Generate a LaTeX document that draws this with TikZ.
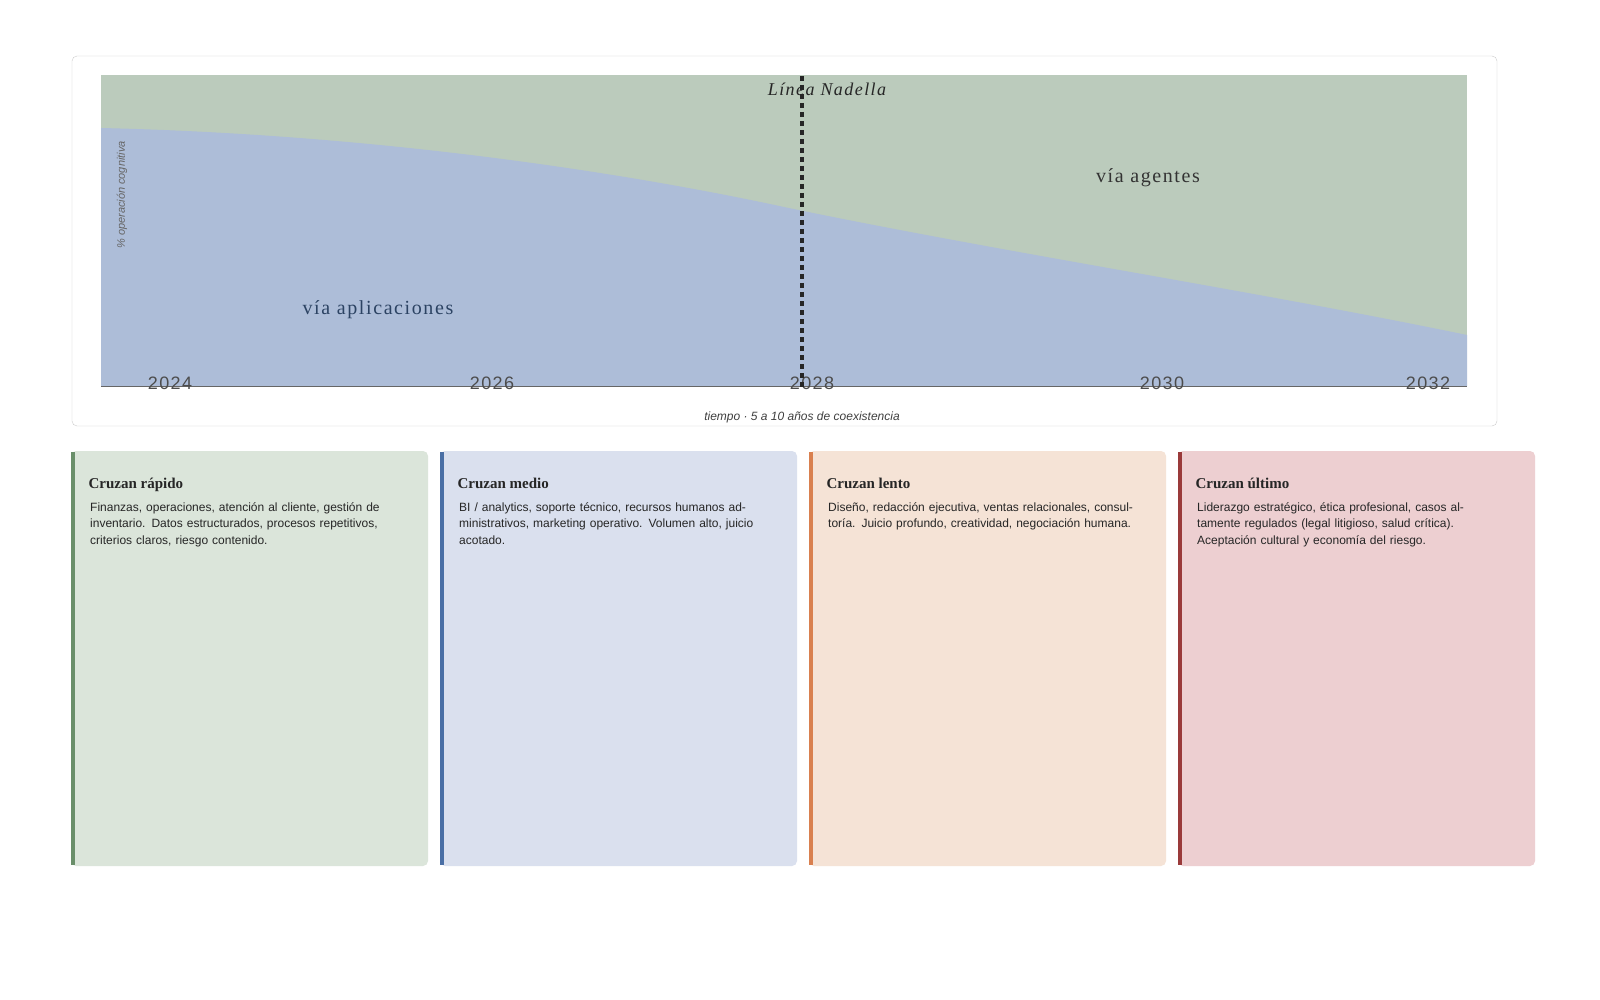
\documentclass[tikz,border=0pt]{standalone}
\usepackage{fontspec}
\setmainfont{Liberation Serif}
\setsansfont{Liberation Sans}
\begin{document}
\begin{tikzpicture}[x=1pt,y=-1pt,
  card/.style={rounded corners=5pt,draw=none},
  ttl/.style={anchor=north west,font=\fontsize{15}{18}\selectfont\bfseries\rmfamily,text=black!85},
  bod/.style={anchor=north west,font=\fontsize{12}{16.5}\selectfont\sffamily,text=black!85,text width=305pt,align=left,inner sep=0pt},
  yr/.style={font=\fontsize{18}{20}\selectfont\sffamily\addfontfeatures{LetterSpace=8},text=black!70}]
\definecolor{gA}{HTML}{BBCBBC}\definecolor{bA}{HTML}{ADBDD8}
\definecolor{c1}{HTML}{DBE5DA}\definecolor{e1}{HTML}{6A8F6A}
\definecolor{c2}{HTML}{DAE0EE}\definecolor{e2}{HTML}{4A6FA5}
\definecolor{c3}{HTML}{F5E3D6}\definecolor{e3}{HTML}{D9804F}
\definecolor{c4}{HTML}{EDCFD1}\definecolor{e4}{HTML}{9A3A3A}
\useasboundingbox (0,0) rectangle (1600,1000);
\fill[white] (0,0) rectangle (1600,1000);
\draw[black!20,rounded corners=5pt] (72,56) rectangle (1497,426);
\fill[gA] (101,75) rectangle (1467,386);
\fill[bA] (101,128) .. controls (400,135) and (650,178) .. (784,207) .. controls (1000,252) and (1250,290) .. (1467,335) -- (1467,386) -- (101,386) -- cycle;
\draw[black!60,line width=1pt] (101,386) -- (1467,386);
\node[rotate=90,font=\fontsize{11}{12}\selectfont\sffamily\itshape,text=black!60] (ylab) at (122,195) {\% operación cognitiva};
\node[font=\fontsize{20}{22}\selectfont\addfontfeatures{LetterSpace=8},text=black!80] (ag) at (1148,178) {vía agentes};
\node[font=\fontsize{20}{22}\selectfont\addfontfeatures{LetterSpace=8},text=e2!60!black] (ap) at (378,310) {vía aplicaciones};
\node[yr] (y1) at (170,383) {2024};
\node[yr] (y2) at (492,383) {2026};
\node[yr] (y3) at (812,383) {2028};
\node[yr] (y4) at (1162,383) {2030};
\node[yr] (y5) at (1428,383) {2032};
\node[font=\fontsize{18}{20}\selectfont\itshape\addfontfeatures{LetterSpace=8},text=black!85] (nad) at (827,89) {Línea Nadella};
\coordinate (t) at (802,76); \coordinate (b) at (802,390);
\draw[black!85,line width=4.5pt,dash pattern=on 5pt off 4pt] (t) -- (b);
\node[font=\fontsize{12}{14}\selectfont\sffamily\itshape,text=black!75] (cap) at (802,417) {tiempo · 5 a 10 años de coexistencia};
\foreach \i/\x/\t/\b in {1/71/Cruzan rápido/{Finanzas, operaciones, atención al cliente, gestión de inventario. Datos estructurados, procesos repetitivos, criterios claros, riesgo contenido.},
2/440/Cruzan medio/{BI / analytics, soporte técnico, recursos humanos administrativos, marketing operativo. Volumen alto, juicio acotado.},
3/809/Cruzan lento/{Diseño, redacción ejecutiva, ventas relacionales, consultoría. Juicio profundo, creatividad, negociación humana.},
4/1178/Cruzan último/{Liderazgo estratégico, ética profesional, casos altamente regulados (legal litigioso, salud crítica). Aceptación cultural y economía del riesgo.}}{
  \fill[c\i,rounded corners=5pt] (\x,451) rectangle ++(357,415);
  \fill[e\i] (\x,452) rectangle ++(4,413);
  \node[ttl] (t\i) at (\x+14,475) {\t};
  \node[bod] (b\i) at (\x+19,502) {\b};
}
\end{tikzpicture}
\end{document}
